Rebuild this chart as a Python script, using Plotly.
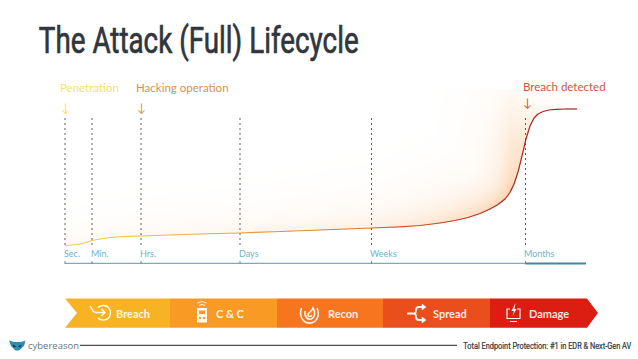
import numpy as np
import plotly.graph_objects as go

TITLE = "The Attack (Full) Lifecycle"
FOOTER = "Total Endpoint Protection: #1 in EDR & Next-Gen AV"

# timeline
tick_labels = ["Sec.", "Min.", "Hrs.", "Days", "Weeks", "Months"]
tick_x = [65, 92, 141, 240, 371.5, 525.5]

# curve
curve_x = [65, 72, 80, 86, 92, 100, 110, 125, 141, 170, 200, 240, 280, 320, 371.5, 400, 420, 440, 455, 468, 480,
           490, 498, 505, 510, 514, 518, 522, 526, 530, 534, 538, 543, 549, 556, 565, 577]
curve_y = [245.5, 245, 244, 242.5, 240.5, 239, 237.5, 236.5, 236, 235, 234, 233, 231.5, 230, 228, 226.8, 225.5, 223,
           220.5, 217.5, 213.5, 209, 204.5, 199, 192.5, 184, 172, 156, 139, 126, 118, 114, 111.5, 110, 109.3, 109, 109]

# chain
stage_names = ["Breach", "C & C", "Recon", "Spread", "Damage"]
stage_edges = [65, 170, 277, 383, 490, 587]
stage_colors = ["#F7B323", "#F99A24", "#F7751E", "#EA4E1C", "#DB1D12"]
stage_text_x = [132.5, 230, 343, 450, 549]

segment_colors = ["#F6CE4B", "#F3BE3F", "#EBA63B", "#E18B34", "#D86B2E", "#C9452C", "#B02A2A", "#A3202B"]

# glow: reach and strength along the timeline
glow_x = [65, 240, 372, 450, 510, 540, 577]
glow_reach = [28, 30, 38, 46, 36, 18, 14]
glow_strength = [0.36, 0.46, 0.58, 0.78, 1.0, 0.45, 0.3]


def lerp_hex(a, b, t):
    pa = [int(a[i:i + 2], 16) for i in (1, 3, 5)]
    pb = [int(b[i:i + 2], 16) for i in (1, 3, 5)]
    return "#%02x%02x%02x" % tuple(round(p + (q - p) * t) for p, q in zip(pa, pb))


def line_color(x):
    t = (x - 65) / (577 - 65) * (len(segment_colors) - 1)
    i = min(int(t), len(segment_colors) - 2)
    return lerp_hex(segment_colors[i], segment_colors[i + 1], t - i)


fig = go.Figure()

# soft glow above the curve, from the distance to the curve
gx = np.arange(65, 578, 1.0)
gy = np.arange(90, 247, 1.0)
fine_x = np.arange(65, 577.5, 1.0)
fine_y = np.interp(fine_x, curve_x, curve_y)
extra_y = np.arange(109, 246, 1.0)
path_x = np.concatenate([fine_x, np.interp(extra_y, curve_y[::-1], curve_x[::-1])])
path_y = np.concatenate([fine_y, extra_y])
X, Y = np.meshgrid(gx, gy)
dist = np.full(X.shape, np.inf)
for px, py in zip(path_x, path_y):
    dist = np.minimum(dist, np.hypot(X - px, Y - py))
reach = np.interp(X, glow_x, glow_reach)
strength = np.interp(X, glow_x, glow_strength)
Z = strength * np.exp(-dist / reach)
Z[Y > np.interp(X, curve_x, curve_y)] = np.nan
fig.add_trace(go.Heatmap(x=gx, y=gy, z=Z, zmin=0, zmax=1, showscale=False, hoverinfo="skip",
                         colorscale=[[0, "rgba(255,255,255,0)"], [1, "#FBCFA6"]]))

# dashed drop lines
for x in tick_x:
    fig.add_trace(go.Scatter(x=[x, x], y=[118, 247], mode="lines",
                             line=dict(color="#5A5F65", width=1, dash="2px,3px"), showlegend=False))

# curve
for i in range(len(curve_x) - 1):
    fig.add_trace(go.Scatter(x=curve_x[i:i + 2], y=curve_y[i:i + 2], mode="lines",
                             line=dict(color=line_color(curve_x[i]), width=1.2), showlegend=False))

# timeline axis
fig.add_trace(go.Scatter(x=[65, 525.5], y=[263.3, 263.3], mode="lines", line=dict(color="#4A9DB5", width=1), showlegend=False))
fig.add_trace(go.Scatter(x=[525.5, 586], y=[263.6, 263.6], mode="lines", line=dict(color="#3A8AA3", width=2), showlegend=False))
for x in tick_x:
    fig.add_trace(go.Scatter(x=[x, x], y=[261, 264], mode="lines", line=dict(color="#4A9DB5", width=1), showlegend=False))

# chain of stages
top, bottom, mid = 298.5, 327.7, 313
for i, c in enumerate(stage_colors):
    a, b = stage_edges[i], stage_edges[i + 1]
    if i == 0:
        xs, ys = [a, b, b, a, a + 12, a], [top, top, bottom, bottom, mid, top]
    elif i == len(stage_colors) - 1:
        xs, ys = [a, b, b + 11, b, a, a], [top, top, mid, bottom, bottom, top]
    else:
        xs, ys = [a, b, b, a, a], [top, top, bottom, bottom, top]
    fig.add_trace(go.Scatter(x=xs, y=ys, mode="lines", line=dict(width=0), fill="toself", fillcolor=c, showlegend=False))

# footer rule
fig.add_trace(go.Scatter(x=[80, 457], y=[345.3, 345.3], mode="lines", line=dict(color="#222", width=1), showlegend=False))

W = "rgba(255,255,255,0.95)"
shapes = [
    # Breach icon: arc + arrow
    dict(type="path", path="M 98 307.5 C 100 305 106 304.5 108.5 307.5 C 111.5 311 111 316 108 318.5 C 105 321 100 320 98 318",
         line=dict(color=W, width=1.4)),
    dict(type="path", path="M 90 306 L 93 311 Q 94 312.5 96 312.5 L 105 312.5 M 101.5 309 L 105 312.5 L 101.5 316",
         line=dict(color=W, width=1.4)),
    # C&C icon: remote
    dict(type="rect", x0=197, x1=207, y0=308, y1=322.5, fillcolor=W, line=dict(width=0)),
    dict(type="path", path="M 199 305.5 Q 202 303.5 205 305.5 M 197.5 303 Q 202 300 206.5 303", line=dict(color=W, width=1)),
    dict(type="rect", x0=199, x1=205, y0=310.5, y1=314, fillcolor=stage_colors[1], line=dict(width=0)),
    dict(type="rect", x0=199, x1=201, y0=317, y1=319, fillcolor=stage_colors[1], line=dict(width=0)),
    dict(type="rect", x0=203, x1=205, y0=317, y1=319, fillcolor=stage_colors[1], line=dict(width=0)),
    # Recon icon: spiral
    dict(type="path", path="M 301.5 308 C 298 318 305 323.5 310 323 C 315 323 321 317 317 308 "
                           "M 305 311 C 304 317 308 320 311 319 C 315 318 316 312 313 308 "
                           "C 312 312 308 312 308 315 C 308 317 311 317 312 315",
         line=dict(color=W, width=1.5)),
    # Spread icon: split arrows
    dict(type="path", path="M 407 313.5 L 414 313.5 Q 416 313.5 416 310 Q 416 307 419 307 L 423 307 "
                           "M 414 313.5 Q 416 313.5 416 317 Q 416 320 419 320 L 423 320",
         line=dict(color=W, width=1.8)),
    dict(type="path", path="M 422 304 L 426 307 L 422 310 Z M 422 317 L 426 320 L 422 323 Z", fillcolor=W, line=dict(color=W, width=0.5)),
    # Damage icon: screen + bolt
    dict(type="path", path="M 510 309 L 507 309 L 507 318.5 L 520 318.5 L 520 309 L 517 309 M 510 321.5 L 517 321.5", line=dict(color=W, width=1.2)),
    dict(type="path", path="M 515.5 303 L 511.5 311 L 514 311 L 512.5 316 L 516.5 309 L 514.5 309 Z", fillcolor=W, line=dict(width=0)),
    # logo
    dict(type="path", path="M 9 340.5 L 14 342 L 21 342 L 25.5 340.5 L 24 346 L 19 350.5 L 15.5 350.5 L 11 346 Z",
         fillcolor="#2F8DB0", line=dict(width=0)),
    dict(type="path", path="M 12.5 344.5 L 16.5 346.5 L 13.5 347.5 Z M 21.5 344.5 L 18 346.5 L 20.5 347.5 Z", fillcolor="#15384A", line=dict(width=0)),
]


def note(x, y, text, size, color, family="Lato", anchor="left"):
    fig.add_annotation(x=x, y=y, text=text, showarrow=False, xanchor=anchor, yanchor="middle",
                       font=dict(size=size, color=color, family=family), xref="x", yref="y",
                       borderpad=0, borderwidth=0)


note(198, 40.5, TITLE, 37, "#30363C", "Roboto", anchor="center")
note(60, 87, "Penetration", 11.5, "#F5E26A")
note(136, 87, "Hacking operation", 11.5, "#D8914E")
note(523, 86.5, "Breach detected", 11.5, "#D0573A")
note(65, 107, "↓", 12, "#F5E26A", anchor="center")
note(141, 107, "↓", 12, "#D8914E", anchor="center")
note(527, 102, "↓", 12, "#D0573A", anchor="center")
for x, t in zip(tick_x, tick_labels):
    note(x - 1.5, 253.5, t, 9, "#6FB4CC")
for x, t in zip(stage_text_x, stage_names):
    note(x, 313.5, f"<b>{t}</b>", 11, "rgba(255,255,255,0.92)", anchor="center")
note(28, 345, "cybereason", 9.5, "#6A7278", "Open Sans")
note(547, 345, FOOTER, 9.5, "#3A4046", "Roboto", anchor="center")

fig.update_layout(
    width=638, height=359, margin=dict(l=0, r=0, t=0, b=0), paper_bgcolor="rgba(0,0,0,0)", plot_bgcolor="rgba(0,0,0,0)",
    showlegend=False, shapes=shapes,
    xaxis=dict(range=[0, 638], visible=False, fixedrange=True),
    yaxis=dict(range=[359, 0], visible=False, fixedrange=True),
)

# the reference uses condensed type: squeeze the two condensed lines to their measured widths
POST = """
document.documentElement.style.overflow='hidden';
document.body.style.margin='0';
document.body.style.overflow='hidden';
document.querySelectorAll('text.annotation-text').forEach(function(t){
  var w=0,k=0;
  if(t.textContent.indexOf('Lifecycle')>=0){w=320;k=0.7;}
  if(t.textContent.indexOf('Endpoint')>=0){w=168;k=0.25;}
  if(w){var b=t.getBBox();var s=w/b.width;var c=b.x+b.width/2;
    t.setAttribute('transform','matrix('+s+' 0 0 1 '+(c*(1-s))+' 0)');
    t.style.stroke='#30363C';t.style.strokeWidth=k+'px';}
});
"""
fig.write_html("out.html", post_script=POST, config=dict(displayModeBar=False))
